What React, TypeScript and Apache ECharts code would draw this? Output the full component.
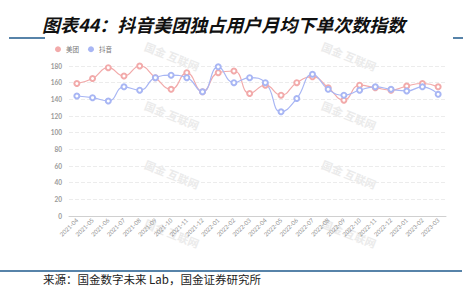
import React, { useEffect, useRef } from "react";
import * as echarts from "echarts";

const categories = [
  "2021-04", "2021-05", "2021-06", "2021-07", "2021-08", "2021-09", "2021-10", "2021-11", "2021-12",
  "2022-01", "2022-02", "2022-03", "2022-04", "2022-05", "2022-06", "2022-07", "2022-08", "2022-09",
  "2022-10", "2022-11", "2022-12", "2023-01", "2023-02", "2023-03",
];
const meituan = [159, 165, 178, 168, 180, 166, 152, 172, 149, 172, 174, 147, 157, 145, 160, 167, 154, 139, 157, 154, 151, 156, 159, 155];
const douyin = [144, 142, 138, 155, 151, 166, 169, 166, 149, 179, 160, 166, 160, 125, 141, 170, 152, 145, 151, 155, 152, 150, 155, 146];
const seriesNames = ["美团", "抖音"];
const titleText = "图表44：抖音美团独占用户月均下单次数指数";
const sourceText = "来源：国金数字未来 Lab，国金证券研究所";
const watermarkText = "国金 互联网";

const RED = "#f2aaaa";
const BLUE = "#a8b6f4";
const NAVY = "#1f5a8c";

export default function App() {
  const ref = useRef<HTMLDivElement>(null);
  useEffect(() => {
    if (!ref.current) return;
    const chart = echarts.init(ref.current, null, { renderer: "svg" });
    const wmCols = [172, 349];
    const wmRows = [56, 115, 174, 233];
    const watermarks: any[] = [];
    wmCols.forEach((cx) =>
      wmRows.forEach((cy) =>
        watermarks.push({
          type: "text",
          x: cx,
          y: cy,
          rotation: -0.38,
          z: 0,
          silent: true,
          style: {
            text: watermarkText,
            fill: "#ebebeb",
            fontSize: 11,
            fontFamily: "Noto Sans CJK SC",
            fontWeight: "bold",
            textAlign: "center",
            textVerticalAlign: "middle",
          },
        })
      )
    );
    chart.setOption({
      animation: false,
      backgroundColor: "#fff",
      graphic: [
        ...watermarks,
        {
          type: "text",
          x: 42,
          y: 24,
          z: 10,
          style: {
            text: titleText,
            fill: "#111",
            fontSize: 18,
            fontStyle: "italic",
            fontWeight: "bold",
            fontFamily: "Noto Sans CJK SC",
            textAlign: "left",
            textVerticalAlign: "middle",
          },
        },
        { type: "line", z: 10, shape: { x1: 9, y1: 38, x2: 45, y2: 38 }, style: { stroke: NAVY, lineWidth: 1.5 } },
        { type: "line", z: 10, shape: { x1: 453, y1: 38, x2: 463, y2: 38 }, style: { stroke: NAVY, lineWidth: 1.5 } },
        { type: "line", z: 10, shape: { x1: 0, y1: 271, x2: 462, y2: 271 }, style: { stroke: NAVY, lineWidth: 1.5 } },
        {
          type: "text",
          x: 43,
          y: 279,
          z: 10,
          style: {
            text: sourceText,
            fill: "#222",
            fontSize: 11.5,
            fontFamily: "Noto Sans CJK SC",
            textAlign: "left",
            textVerticalAlign: "middle",
          },
        },
      ],
      legend: {
        data: seriesNames,
        left: 50,
        top: 41,
        icon: "circle",
        itemWidth: 6,
        itemHeight: 6,
        itemGap: 9,
        textStyle: { fontSize: 6.5, color: "#777", fontFamily: "Noto Sans CJK SC" },
      },
      grid: { left: 69, right: 27, top: 66, bottom: 72, containLabel: false },
      xAxis: {
        type: "category",
        data: categories,
        boundaryGap: true,
        axisLine: { lineStyle: { color: "#d0d0d0" } },
        axisTick: { show: false },
        axisLabel: {
          interval: 0,
          rotate: 45,
          fontSize: 6,
          color: "#8f8f8f",
          margin: 3,
          fontFamily: "Lato",
        },
      },
      yAxis: {
        type: "value",
        min: 0,
        max: 180,
        interval: 20,
        axisLine: { show: false },
        axisTick: { show: false },
        axisLabel: { fontSize: 6.5, color: "#999", margin: 7, fontFamily: "Lato", fontWeight: "bold" },
        splitLine: { lineStyle: { color: "#ececec", type: "dashed" } },
      },
      series: [
        {
          name: seriesNames[0],
          type: "line",
          data: meituan,
          smooth: true,
          symbol: "emptyCircle",
          symbolSize: 5,
          itemStyle: { color: RED },
          lineStyle: { color: RED, width: 1.2 },
          z: 3,
        },
        {
          name: seriesNames[1],
          type: "line",
          data: douyin,
          smooth: true,
          symbol: "emptyCircle",
          symbolSize: 5,
          itemStyle: { color: BLUE },
          lineStyle: { color: BLUE, width: 1.2 },
          z: 3,
        },
      ],
    });
    return () => chart.dispose();
  }, []);
  return (
    <div
      ref={ref}
      style={{ position: "absolute", left: 0, top: 0, width: 473, height: 288 }}
    />
  );
}
